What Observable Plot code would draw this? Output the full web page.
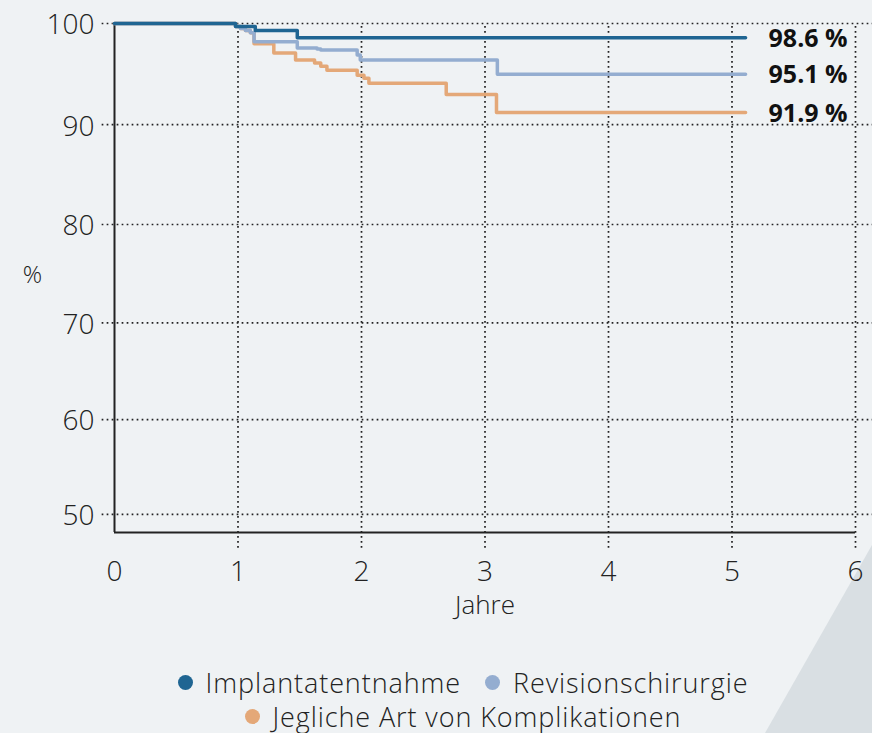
<!DOCTYPE html>
<html>
<head>
<meta charset="utf-8">
<script src="https://cdn.jsdelivr.net/npm/d3@7"></script>
<script src="https://cdn.jsdelivr.net/npm/@observablehq/plot@0.6"></script>
<style>
  html, body { margin: 0; padding: 0; background: #eff2f4; overflow: hidden; width: 872px; height: 733px; }
  #deco { position: absolute; left: 0; top: 0; width: 872px; height: 733px; background: #d9dfe3;
          clip-path: polygon(872px 545px, 872px 733px, 765px 733px); z-index: 0; }
  #wrap { position: relative; z-index: 1; font-family: "Open Sans", sans-serif; color: #222; }
  #legend { box-sizing: border-box; width: 872px; padding-left: 54px; padding-top: 25px; font-size: 27px; font-weight: 300; letter-spacing: 0.9px; }
  .row { display: flex; justify-content: center; align-items: center; height: 34px; white-space: nowrap; }
  .item { display: inline-flex; align-items: center; margin: 0 12px; }
  .dot { width: 15px; height: 15px; border-radius: 50%; margin-right: 13px; display: inline-block; }
</style>
</head>
<body>
<div id="deco"></div>
<div id="wrap">
  <div id="chart"></div>
  <div id="legend"></div>
</div>
<script>
// ---- data ----
const seriesNames = ["Implantatentnahme", "Revisionschirurgie", "Jegliche Art von Komplikationen"];
const seriesColors = ["#1f6592", "#94add0", "#e4a878"];

const implYears = [0, 0.98, 1.14, 1.48, 5.11];
const implValues = [100, 99.7, 99.3, 98.6, 98.6];

const revYears = [0, 0.98, 1.02, 1.06, 1.10, 1.13, 1.48, 1.64, 1.67, 1.965, 1.99, 3.10, 5.11];
const revValues = [100, 99.7, 99.5, 99.3, 99.1, 98.2, 97.6, 97.5, 97.4, 96.9, 96.4, 95.0, 95.0];

const kompYears = [0, 0.98, 1.02, 1.06, 1.10, 1.13, 1.29, 1.466, 1.62, 1.67, 1.72, 1.965, 2.02, 2.06, 2.686, 3.093, 5.11];
const kompValues = [100, 99.7, 99.5, 99.3, 99.1, 98.0, 97.1, 96.4, 96.1, 95.8, 95.4, 94.9, 94.6, 94.1, 93.0, 91.2, 91.2];

const endLabels = ["98.6 %", "95.1 %", "91.9 %"];

const xTicks = [0, 1, 2, 3, 4, 5, 6];
const yTicks = [50, 60, 70, 80, 90, 100];
const xLabel = "Jahre";
const yLabel = "%";

// ---- build tables ----
const allYears = [implYears, revYears, kompYears];
const allValues = [implValues, revValues, kompValues];
const rows = [];
seriesNames.forEach((name, i) => {
  allYears[i].forEach((t, j) => rows.push({series: name, t, v: allValues[i][j]}));
});
const ends = seriesNames.map((name, i) => ({
  series: name,
  t: allYears[i][allYears[i].length - 1],
  v: allValues[i][allValues[i].length - 1],
  label: endLabels[i]
}));

const H = 640;
const yMin = 48.05;
const yBelow = 46.36; // tick extension below axis
const grid = {stroke: "#222", strokeWidth: 1.7, strokeDasharray: "1.7,3.3"};

const chart = Plot.plot({
  width: 872,
  height: H,
  marginLeft: 114,
  marginRight: 17,
  marginTop: 23,
  marginBottom: H - 532,
  x: {domain: [0, 6]},
  y: {type: "pow", exponent: 1.12, domain: [yMin, 100]},
  style: {fontFamily: "'Open Sans', sans-serif", color: "#222", background: "transparent", fontWeight: 300},
  marks: [
    Plot.ruleY(yTicks, {x1: -0.1, x2: 6.14, ...grid}),
    Plot.ruleX(xTicks.filter(d => d > 0), {y1: yBelow, y2: 100, ...grid}),
    Plot.ruleX([0], {y1: yMin, y2: 100, stroke: "#222", strokeWidth: 2}),
    Plot.ruleY([yMin], {x1: 0, x2: 6, stroke: "#222", strokeWidth: 2}),
    Plot.line(rows.filter(d => d.series === seriesNames[2]), {x: "t", y: "v", stroke: seriesColors[2], strokeWidth: 3.5, curve: "step-after"}),
    Plot.line(rows.filter(d => d.series === seriesNames[1]), {x: "t", y: "v", stroke: seriesColors[1], strokeWidth: 3.5, curve: "step-after"}),
    Plot.line(rows.filter(d => d.series === seriesNames[0]), {x: "t", y: "v", stroke: seriesColors[0], strokeWidth: 3.5, curve: "step-after"}),
    Plot.text(ends, {x: "t", y: "v", text: "label", textAnchor: "end", dx: 102, dy: 1, fontSize: 25, fontWeight: 700, fill: "#111"}),
    Plot.axisX({ticks: xTicks, tickFormat: d3.format("d"), tickSize: 0, tickPadding: 29, fontSize: 28, label: null}),
    Plot.axisY({ticks: yTicks, tickFormat: d3.format("d"), tickSize: 0, tickPadding: 20, fontSize: 28, label: null, dy: 2}),
    Plot.text([yLabel], {frameAnchor: "left", textAnchor: "middle", lineAnchor: "middle", dx: -82, dy: -3, fontSize: 24}),
    Plot.text([xLabel], {frameAnchor: "bottom", textAnchor: "middle", lineAnchor: "middle", dy: 73, fontSize: 26})
  ]
});
document.getElementById("chart").appendChild(chart);

// ---- legend ----
const legend = document.getElementById("legend");
const layout = [[0, 1], [2]];
layout.forEach(r => {
  const row = document.createElement("div");
  row.className = "row";
  r.forEach(i => {
    const item = document.createElement("span");
    item.className = "item";
    const dot = document.createElement("span");
    dot.className = "dot";
    dot.style.background = seriesColors[i];
    item.appendChild(dot);
    item.appendChild(document.createTextNode(seriesNames[i]));
    row.appendChild(item);
  });
  legend.appendChild(row);
});
</script>
</body>
</html>
